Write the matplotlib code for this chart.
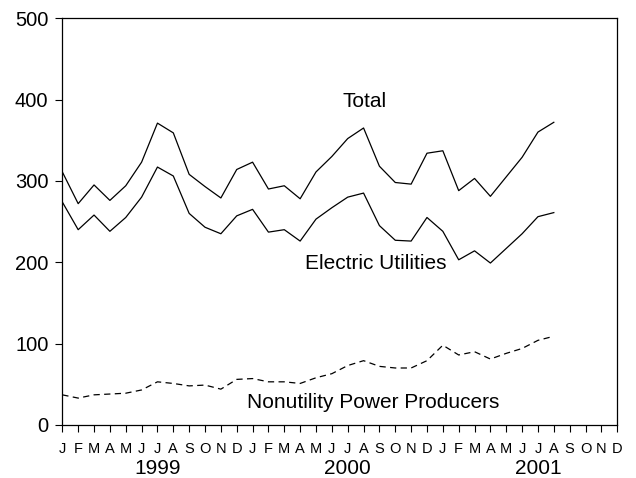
import matplotlib
matplotlib.use("Agg")
import matplotlib.pyplot as plt

plt.rcParams['font.family'] = ['Liberation Sans', 'DejaVu Sans']

months = ["J", "F", "M", "A", "M", "J", "J", "A", "S", "O", "N", "D"] * 3
years = ["1999", "2000", "2001"]

total = [311, 272, 295, 276, 294, 323, 371, 359, 308, 293, 279, 314,
         323, 290, 294, 278, 311, 330, 352, 365, 318, 298, 296, 334,
         337, 288, 303, 281, 305, 329, 360, 372]
electric = [274, 240, 258, 238, 255, 280, 317, 306, 260, 243, 235, 257,
            265, 237, 240, 226, 253, 267, 280, 285, 245, 227, 226, 255,
            238, 203, 214, 199, 217, 235, 256, 261]
nonutility = [37, 33, 37, 38, 39, 43, 53, 51, 48, 49, 44, 56,
              57, 53, 53, 51, 58, 63, 73, 79, 72, 70, 70, 79,
              98, 86, 90, 81, 88, 94, 104, 109]

fig = plt.figure(figsize=(6.36, 4.78), dpi=100)
ax = fig.add_axes([0.098, 0.111, 0.8725, 0.851])

x = list(range(len(total)))
ax.plot(x, total, color='black', lw=0.9)
ax.plot(x, electric, color='black', lw=0.9)
ax.plot(x, nonutility, color='black', lw=0.9, dashes=(5, 3.5))

ax.set_xlim(0, 35)
ax.set_ylim(0, 500)
ax.set_yticks([0, 100, 200, 300, 400, 500])
ax.tick_params(axis='y', labelsize=14.5, length=5, width=0.8, direction='out', pad=5)
ax.set_xticks(range(36))
ax.set_xticklabels(months)
ax.tick_params(axis='x', labelsize=10.5, length=5, width=0.8, direction='out', pad=7)
for s in ax.spines.values():
    s.set_linewidth(0.9)

for i, yr in enumerate(years):
    ax.text(6 + 12 * i, -0.108, yr, transform=ax.get_xaxis_transform(),
            ha='center', va='center', fontsize=15)

ax.text(19.05, 398, "Total", ha='center', va='center', fontsize=15)
ax.text(19.8, 199, "Electric Utilities", ha='center', va='center', fontsize=15)
ax.text(19.6, 28, "Nonutility Power Producers", ha='center', va='center', fontsize=15)

fig.savefig("out.png", dpi=100)
